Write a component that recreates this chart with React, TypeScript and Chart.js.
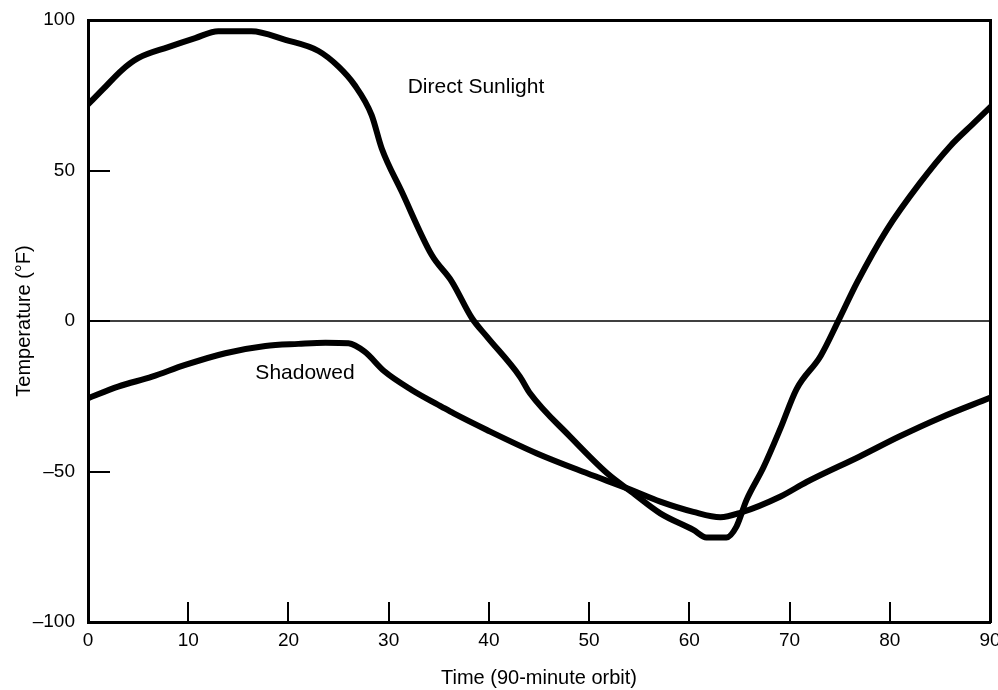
import React, { useEffect, useRef } from "react";
import { Chart, registerables } from "chart.js";

Chart.register(...registerables);

// ---- Data ----
const directX = [0, 1.5, 3.4, 5, 8, 10.7, 13, 16.3, 19.7, 23, 25, 26.6, 28.3, 29.3, 31.3, 34.3, 36.3, 38.3, 39.8, 43.1, 44.1, 48.1, 51.8, 54.4, 57.1, 60.4, 61.7, 63.7, 64.7, 65.7, 67.4, 69.1, 70.7, 73.1, 74.9, 76.7, 79.7, 83, 86, 88.4, 90];
const directY = [72, 77, 83.4, 87.3, 91, 94, 96.3, 96.3, 93.4, 89.7, 84.5, 78.4, 68.4, 57.4, 43, 21.9, 13.1, 1, -5.2, -18.5, -24, -38.4, -50.6, -57.2, -63.9, -69.4, -71.9, -71.9, -68.3, -59.5, -48.6, -35.6, -22.6, -11.6, 0.3, 12.6, 30.3, 45.8, 58, 65.8, 71];

const shadowX = [0, 3, 6.4, 9.7, 13.7, 17.7, 21, 23.7, 26, 27.6, 29.6, 32.3, 35.3, 36.5, 39.8, 44.8, 49.8, 53.8, 57.1, 60.4, 63.1, 65.1, 69.1, 71.7, 77, 81, 85, 90];
const shadowY = [-25.7, -21.8, -18.5, -14.6, -10.7, -8.3, -7.6, -7.2, -7.4, -10.2, -16.8, -22.9, -28.5, -30.7, -36.2, -44, -50.6, -55.6, -60, -63.4, -65.2, -63.7, -58.3, -53.5, -45, -38.3, -32.2, -25.5];

const zeroLineX = [0, 90];
const zeroLineY = [0, 0];

const yTickValues = [-100, -50, 0, 50, 100];
const yTickLabels = ["\u2013100", "\u201350", "0", "50", "100"];
const xTickValues = [0, 10, 20, 30, 40, 50, 60, 70, 80, 90];
const xTickLabels = ["0", "10", "20", "30", "40", "50", "60", "70", "80", "90"];

const labelTexts = ["Direct Sunlight", "Shadowed"];
const labelX = [31.9, 16.7];
const labelY = [77.6, -17.4];

const xTitle = "Time (90-minute orbit)";
const yTitle = "Temperature (\u00B0F)";

const FONT = '"Liberation Sans", Arial, Helvetica, sans-serif';

const toPoints = (xs: number[], ys: number[]) => xs.map((x, i) => ({ x, y: ys[i] }));

const noOverflow = (s: any) => {
  s.paddingTop = 0;
  s.paddingBottom = 0;
  s.paddingLeft = 0;
  s.paddingRight = 0;
};

const curveLabels = {
  id: "curveLabels",
  afterDatasetsDraw(chart: any) {
    const { ctx, scales } = chart;
    const xs = scales.x;
    const ys = scales.y;
    ctx.save();
    ctx.font = `21px ${FONT}`;
    ctx.fillStyle = "#000";
    ctx.textAlign = "left";
    ctx.textBaseline = "middle";
    labelTexts.forEach((t, i) => {
      ctx.fillText(t, xs.getPixelForValue(labelX[i]), ys.getPixelForValue(labelY[i]));
    });
    ctx.restore();
  },
};

export default function App() {
  const canvasRef = useRef<HTMLCanvasElement | null>(null);

  useEffect(() => {
    document.body.style.margin = "0";
    const canvas = canvasRef.current;
    if (!canvas) return;
    Chart.defaults.color = "#000";
    Chart.defaults.font.family = FONT;

    const chart = new Chart(canvas, {
      type: "line",
      data: {
        datasets: [
          {
            label: "Zero",
            data: toPoints(zeroLineX, zeroLineY),
            borderColor: "#000",
            borderWidth: 1.6,
            pointRadius: 0,
            tension: 0,
          },
          {
            label: "Direct Sunlight",
            data: toPoints(directX, directY),
            borderColor: "#000",
            borderWidth: 6,
            pointRadius: 0,
            cubicInterpolationMode: "monotone",
            borderCapStyle: "round",
            borderJoinStyle: "round",
          },
          {
            label: "Shadowed",
            data: toPoints(shadowX, shadowY),
            borderColor: "#000",
            borderWidth: 6,
            pointRadius: 0,
            cubicInterpolationMode: "monotone",
            borderCapStyle: "round",
            borderJoinStyle: "round",
          },
        ],
      },
      options: {
        responsive: false,
        animation: false,
        layout: { padding: { top: 20, right: 8, bottom: 0, left: 0 } },
        plugins: {
          legend: { display: false },
          tooltip: { enabled: false },
        },
        scales: {
          x: {
            type: "linear",
            position: "bottom",
            min: 0,
            max: 90,
            afterBuildTicks: (s: any) => {
              s.ticks = xTickValues.map((v) => ({ value: v }));
            },
            ticks: {
              autoSkip: false,
              maxRotation: 0,
              padding: 27,
              color: "#000",
              font: { size: 19, family: FONT },
              callback: (v: any) => {
                const i = xTickValues.indexOf(Number(v));
                return i >= 0 ? xTickLabels[i] : "";
              },
            },
            grid: {
              drawOnChartArea: false,
              drawTicks: true,
              tickLength: -20,
              color: "#000",
              lineWidth: 2,
            },
            border: { display: true, color: "#000", width: 3 },
            title: {
              display: true,
              text: xTitle,
              color: "#000",
              font: { size: 20, family: FONT },
              padding: { top: 0, bottom: 0 },
            },
            afterFit: (s: any) => {
              s.height = 68;
              noOverflow(s);
            },
          },
          y: {
            type: "linear",
            position: "left",
            min: -100,
            max: 100,
            afterBuildTicks: (s: any) => {
              s.ticks = yTickValues.map((v) => ({ value: v }));
            },
            ticks: {
              padding: 35,
              color: "#000",
              font: { size: 19, family: FONT },
              callback: (v: any) => {
                const i = yTickValues.indexOf(Number(v));
                return i >= 0 ? yTickLabels[i] : "";
              },
            },
            grid: {
              drawOnChartArea: false,
              drawTicks: true,
              tickLength: -22,
              color: "#000",
              lineWidth: 2,
            },
            border: { display: true, color: "#000", width: 3 },
            title: {
              display: true,
              text: yTitle,
              color: "#000",
              font: { size: 20, family: FONT },
              padding: { top: 12, bottom: 0 },
            },
            afterFit: (s: any) => {
              s.width = 88;
              noOverflow(s);
            },
          },
          xTop: {
            type: "linear",
            axis: "x",
            position: "top",
            min: 0,
            max: 90,
            ticks: { display: false },
            grid: { display: false, drawTicks: false },
            border: { display: true, color: "#000", width: 3 },
            afterFit: (s: any) => {
              s.height = 0;
              noOverflow(s);
            },
          },
          yRight: {
            type: "linear",
            axis: "y",
            position: "right",
            min: -100,
            max: 100,
            ticks: { display: false },
            grid: { display: false, drawTicks: false },
            border: { display: true, color: "#000", width: 3 },
            afterFit: (s: any) => {
              s.width = 0;
              noOverflow(s);
            },
          },
        },
      },
      plugins: [curveLabels],
    } as any);

    return () => chart.destroy();
  }, []);

  return (
    <div style={{ width: 998, height: 690, background: "#fff" }}>
      <canvas ref={canvasRef} width={998} height={690} style={{ display: "block" }} />
    </div>
  );
}
